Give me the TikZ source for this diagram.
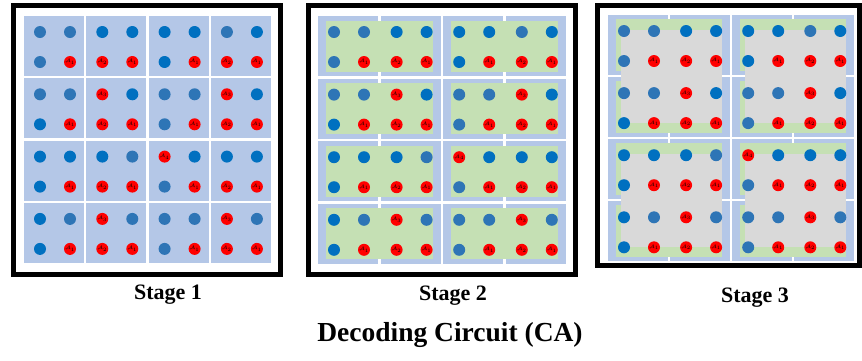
\documentclass[tikz,border=0pt]{standalone}
\usepackage{fontspec}
\setmainfont{Liberation Serif}
\definecolor{cellblue}{HTML}{B4C7E7}
\definecolor{steelb}{HTML}{2E75B6}
\definecolor{brightb}{HTML}{0070C0}
\definecolor{greenf}{HTML}{C5E0B4}
\definecolor{grayf}{HTML}{D9D9D9}
\definecolor{redd}{HTML}{FF0000}
\tikzset{
  cellbox/.style={fill=cellblue},
  greenbox/.style={fill=greenf},
  graybox/.style={fill=grayf},
  framebox/.style={draw=black,line width=4.8pt},
  reddot/.style={circle,fill=redd,inner sep=0pt,minimum size=12pt,font=\fontsize{5}{5}\selectfont},
  stagelabel/.style={font=\bfseries\fontsize{22}{24}\selectfont},
  titlelabel/.style={font=\bfseries\fontsize{27.5}{30}\selectfont}
}
\newcommand\qdot[3]{%
  \if#3s\fill[steelb] (#1,#2) circle (6);\else
  \if#3b\fill[brightb] (#1,#2) circle (6);\else
  \node[reddot] at (#1,#2) {$\mathcal{A}_{#3}$};\fi\fi}
\def\dotlist{0/0/s/s/s/1, 0/1/b/b/2/1, 0/2/b/b/b/1, 0/3/s/b/2/1,
 1/0/s/s/b/1, 1/1/3/b/2/1, 1/2/s/s/s/1, 1/3/3/b/2/1,
 2/0/b/b/b/1, 2/1/b/s/2/1, 2/2/4/b/s/1, 2/3/b/b/2/1,
 3/0/b/s/b/1, 3/1/3/s/2/1, 3/2/s/s/s/1, 3/3/3/s/2/1}
\newcommand\drawcells[3]{%
  \foreach \r in {0,...,3}{\foreach \c in {0,...,3}{%
    \fill[cellbox] ({#1+\c*#3},{#2+\r*#3}) rectangle ++(60,60);}}}
\newcommand\drawdots[3]{%
  \foreach \r/\c/\p/\q/\u/\v in \dotlist{%
    \pgfmathsetmacro\xa{#1+\c*#3+16}\pgfmathsetmacro\xb{#1+\c*#3+46}%
    \pgfmathsetmacro\ya{#2+\r*#3+16}\pgfmathsetmacro\yb{#2+\r*#3+46}%
    \qdot{\xa}{\ya}{\p}\qdot{\xb}{\ya}{\q}\qdot{\xa}{\yb}{\u}\qdot{\xb}{\yb}{\v}}}
\newcommand\drawgreen[5]{% X0 Y0 P insetx insety
  \foreach \r in {0,...,3}{\foreach \pp in {0,1}{%
    \fill[greenbox] ({#1+2*\pp*#3+#4},{#2+\r*#3+#5}) rectangle ({#1+(2*\pp+1)*#3+60-#4},{#2+\r*#3+60-#5});}}}
\begin{document}
\begin{tikzpicture}[x=1pt,y=-1pt]
\useasboundingbox (0,0) rectangle (862,360);
% Stage 1
\drawcells{24}{16}{62.3}
\drawdots{24}{16}{62.3}
\draw[framebox] (13.4,5.4) rectangle (280.6,274.6);
% Stage 2
\drawcells{318}{16}{62.6}
\drawgreen{318}{16}{62.6}{8}{4.5}
\drawdots{318}{16}{62.6}
\draw[framebox] (308.4,5.4) rectangle (575.6,274.6);
% Stage 3
\drawcells{608}{15}{62.1}
\drawgreen{608}{15}{62.1}{8}{4}
\foreach \br in {0,1}{\foreach \bc in {0,1}{%
  \fill[graybox] ({608+2*\bc*62.1+13},{15+2*\br*62.1+15}) rectangle ({608+(2*\bc+1)*62.1+60-8},{15+(2*\br+1)*62.1+60-14});}}
\drawdots{608}{15}{62.1}
\draw[framebox] (597.4,5.4) rectangle (859.6,265.6);
% labels
\node[stagelabel] (s1) at (168,295) {Stage 1};
\node[stagelabel] (s2) at (453,296) {Stage 2};
\node[stagelabel] (s3) at (755,298) {Stage 3};
\node[titlelabel] (t) at (450,335) {Decoding Circuit (CA)};
\end{tikzpicture}
\end{document}
